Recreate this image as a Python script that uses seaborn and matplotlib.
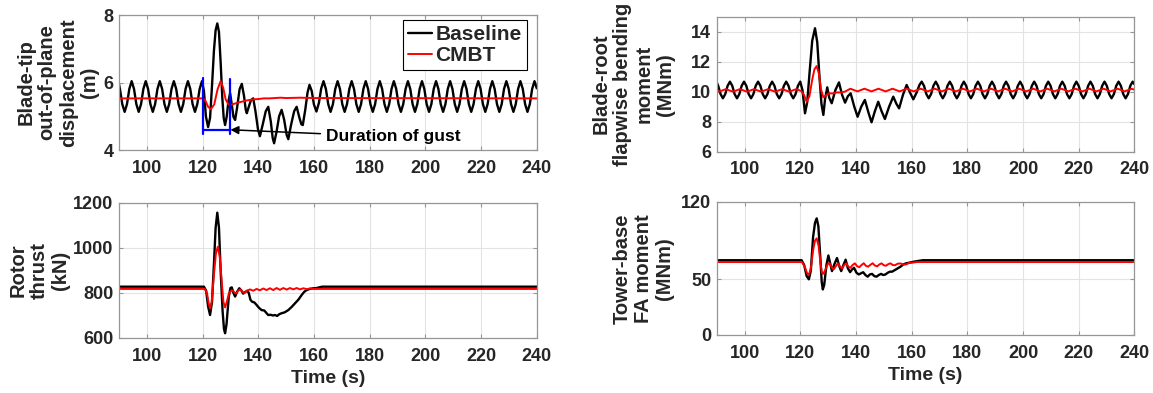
import numpy as np
import pandas as pd
import seaborn as sns
import matplotlib.pyplot as plt

# ---- data ----
# blade-tip out-of-plane displacement (m)
tip_base_t = [90.00, 90.34, 91.18, 92.03, 92.87, 93.71,
              94.55, 95.39, 96.23, 97.08, 97.92, 98.76,
              99.60, 100.44, 101.28, 102.13, 102.97, 103.81,
              104.65, 105.49, 106.33, 107.18, 108.02, 108.86,
              109.70, 110.54, 111.38, 112.23, 113.07, 113.91,
              114.75, 115.59, 116.43, 117.28, 118.12, 118.96,
              119.80, 120.50, 121.20, 122.00, 122.70, 123.40, 124.10, 124.70,
              125.30, 125.90, 126.50, 127.10, 127.60, 128.10, 128.70, 129.30,
              129.90, 130.50, 131.10, 131.70, 132.40, 133.30, 134.10, 134.90,
              135.50, 135.90, 136.60, 137.40, 138.20, 139.00, 139.90, 140.60,
              141.60, 142.70, 143.60, 144.50, 145.20, 145.70, 146.60, 147.50,
              148.40, 149.30, 150.20, 150.80, 151.80, 152.90, 153.80, 154.80,
              155.50, 156.00, 156.90, 157.70, 158.40, 159.20, 160.00, 160.90,
              161.80, 162.60,
              163.45, 164.29, 165.13, 165.98, 166.82, 167.66,
              168.50, 169.34, 170.18, 171.03, 171.87, 172.71,
              173.55, 174.39, 175.23, 176.08, 176.92, 177.76,
              178.60, 179.44, 180.28, 181.13, 181.97, 182.81,
              183.65, 184.49, 185.33, 186.18, 187.02, 187.86,
              188.70, 189.54, 190.38, 191.23, 192.07, 192.91,
              193.75, 194.59, 195.43, 196.28, 197.12, 197.96,
              198.80, 199.64, 200.48, 201.33, 202.17, 203.01,
              203.85, 204.69, 205.53, 206.38, 207.22, 208.06,
              208.90, 209.74, 210.58, 211.43, 212.27, 213.11,
              213.95, 214.79, 215.63, 216.48, 217.32, 218.16,
              219.00, 219.84, 220.68, 221.53, 222.37, 223.21,
              224.05, 224.89, 225.73, 226.58, 227.42, 228.26,
              229.10, 229.94, 230.78, 231.63, 232.47, 233.31,
              234.15, 234.99, 235.83, 236.68, 237.52, 238.36,
              239.20, 240.00]
tip_base_y = [5.95, 5.81, 5.36, 5.13, 5.36, 5.81,
              6.04, 5.81, 5.36, 5.13, 5.36, 5.81,
              6.04, 5.81, 5.36, 5.13, 5.36, 5.81,
              6.04, 5.81, 5.36, 5.13, 5.36, 5.81,
              6.04, 5.81, 5.36, 5.13, 5.36, 5.81,
              6.04, 5.81, 5.36, 5.13, 5.36, 5.81,
              6.04, 5.75, 5.00, 4.68, 4.95, 5.90, 6.95, 7.55,
              7.75, 7.50, 6.60, 5.55, 4.95, 4.74, 5.00, 5.45,
              5.68, 5.35, 4.98, 4.89, 5.25, 5.80, 5.96, 5.60,
              5.20, 5.09, 5.28, 5.48, 5.53, 5.15, 4.62, 4.41,
              4.75, 5.15, 5.28, 4.85, 4.35, 4.20, 4.55, 5.00,
              5.19, 4.90, 4.45, 4.32, 4.75, 5.15, 5.28, 4.95,
              4.76, 4.74, 5.20, 5.70, 5.93, 5.75, 5.35, 5.14,
              5.40, 5.82,
              6.04, 5.81, 5.36, 5.13, 5.36, 5.81,
              6.04, 5.81, 5.36, 5.13, 5.36, 5.81,
              6.04, 5.81, 5.36, 5.13, 5.36, 5.81,
              6.04, 5.81, 5.36, 5.13, 5.36, 5.81,
              6.04, 5.81, 5.36, 5.13, 5.36, 5.81,
              6.04, 5.81, 5.36, 5.13, 5.36, 5.81,
              6.04, 5.81, 5.36, 5.13, 5.36, 5.81,
              6.04, 5.81, 5.36, 5.13, 5.36, 5.81,
              6.04, 5.81, 5.36, 5.13, 5.36, 5.81,
              6.04, 5.81, 5.36, 5.13, 5.36, 5.81,
              6.04, 5.81, 5.36, 5.13, 5.36, 5.81,
              6.04, 5.81, 5.36, 5.13, 5.36, 5.81,
              6.04, 5.81, 5.36, 5.13, 5.36, 5.81,
              6.04, 5.81, 5.36, 5.13, 5.36, 5.81,
              6.04, 5.81, 5.36, 5.13, 5.36, 5.81,
              6.04, 5.83]
tip_cmbt_t = [90.0, 120.2, 121.0, 122.0, 123.0, 124.2, 125.4, 126.5, 127.4,
              128.3, 129.3, 129.9, 131.0, 132.5, 134.0, 136.0, 138.2, 140.0,
              142.0, 144.0, 146.0, 148.0, 150.0, 155.0, 160.0, 240.0]
tip_cmbt_y = [5.53, 5.53, 5.47, 5.28, 5.21, 5.35, 5.80, 6.04, 5.85,
              5.50, 5.35, 5.33, 5.36, 5.40, 5.43, 5.47, 5.50, 5.51,
              5.53, 5.53, 5.54, 5.55, 5.54, 5.55, 5.54, 5.53]

# blade-root flapwise bending moment (MNm)
root_base_t = [90.00, 90.54, 91.38, 92.23, 93.07, 93.91,
               94.75, 95.59, 96.43, 97.28, 98.12, 98.96,
               99.80, 100.64, 101.48, 102.33, 103.17, 104.01,
               104.85, 105.69, 106.53, 107.38, 108.22, 109.06,
               109.90, 110.74, 111.58, 112.43, 113.27, 114.11,
               114.95, 115.79, 116.63, 117.48, 118.32, 119.16,
               120.00, 120.80, 121.70, 122.50, 123.40, 124.30, 125.30, 126.10,
               126.90, 127.60, 128.30, 128.90, 129.70, 130.40, 131.30, 132.60,
               133.90, 135.00, 136.10, 137.10, 138.10, 139.40, 140.60, 141.90,
               143.20, 144.50, 145.60, 146.80, 148.00, 149.20, 150.40, 151.90,
               153.40, 154.50, 155.50, 156.90, 158.20, 159.40, 160.60, 161.80,
               162.80,
               163.60, 164.44, 165.28, 166.13, 166.97, 167.81,
               168.65, 169.49, 170.33, 171.18, 172.02, 172.86,
               173.70, 174.54, 175.38, 176.23, 177.07, 177.91,
               178.75, 179.59, 180.43, 181.28, 182.12, 182.96,
               183.80, 184.64, 185.48, 186.33, 187.17, 188.01,
               188.85, 189.69, 190.53, 191.38, 192.22, 193.06,
               193.90, 194.74, 195.58, 196.43, 197.27, 198.11,
               198.95, 199.79, 200.63, 201.48, 202.32, 203.16,
               204.00, 204.84, 205.68, 206.53, 207.37, 208.21,
               209.05, 209.89, 210.73, 211.58, 212.42, 213.26,
               214.10, 214.94, 215.78, 216.63, 217.47, 218.31,
               219.15, 219.99, 220.83, 221.68, 222.52, 223.36,
               224.20, 225.04, 225.88, 226.73, 227.57, 228.41,
               229.25, 230.09, 230.93, 231.78, 232.62, 233.46,
               234.30, 235.14, 235.98, 236.83, 237.67, 238.51,
               239.35, 240.00]
root_base_y = [10.63, 10.39, 9.84, 9.56, 9.84, 10.39,
               10.67, 10.39, 9.84, 9.56, 9.84, 10.39,
               10.67, 10.39, 9.84, 9.56, 9.84, 10.39,
               10.67, 10.39, 9.84, 9.56, 9.84, 10.39,
               10.67, 10.39, 9.84, 9.56, 9.84, 10.39,
               10.67, 10.39, 9.84, 9.56, 9.84, 10.39,
               10.67, 10.10, 8.56, 9.30, 11.40, 13.40, 14.23, 13.30,
               11.00, 9.20, 8.45, 9.50, 10.29, 9.60, 9.23, 10.10,
               10.62, 9.80, 9.27, 9.70, 9.89, 9.00, 8.33, 9.00,
               9.45, 8.60, 7.96, 8.70, 9.33, 8.70, 8.18, 9.00,
               9.67, 9.20, 8.89, 9.80, 10.45, 9.95, 9.49, 9.95,
               10.45,
               10.67, 10.39, 9.84, 9.56, 9.84, 10.39,
               10.67, 10.39, 9.84, 9.56, 9.84, 10.39,
               10.67, 10.39, 9.84, 9.56, 9.84, 10.39,
               10.67, 10.39, 9.84, 9.56, 9.84, 10.39,
               10.67, 10.39, 9.84, 9.56, 9.84, 10.39,
               10.67, 10.39, 9.84, 9.56, 9.84, 10.39,
               10.67, 10.39, 9.84, 9.56, 9.84, 10.39,
               10.67, 10.39, 9.84, 9.56, 9.84, 10.39,
               10.67, 10.39, 9.84, 9.56, 9.84, 10.39,
               10.67, 10.39, 9.84, 9.56, 9.84, 10.39,
               10.67, 10.39, 9.84, 9.56, 9.84, 10.39,
               10.67, 10.39, 9.84, 9.56, 9.84, 10.39,
               10.67, 10.39, 9.84, 9.56, 9.84, 10.39,
               10.67, 10.39, 9.84, 9.56, 9.84, 10.39,
               10.67, 10.39, 9.84, 9.56, 9.84, 10.39,
               10.67, 10.50]
root_cmbt_t = [90.00, 90.78, 93.30, 95.83, 98.35, 100.88, 103.40, 105.93,
               108.45, 110.98, 113.50, 116.03, 118.55, 120.30, 121.30, 122.30,
               123.30, 124.30, 125.10, 125.90, 126.70, 127.40, 128.30, 129.20,
               130.30, 131.50, 133.00, 134.50, 136.00,
               138.00, 140.53, 143.05, 145.58, 148.10, 150.63, 153.15, 155.68,
               158.20, 160.73, 163.25, 165.78, 168.30, 170.83, 173.35, 175.88,
               178.40, 180.93, 183.45, 185.98, 188.50, 191.03, 193.55, 196.08,
               198.60, 201.13, 203.65, 206.18, 208.70, 211.23, 213.75, 216.28,
               218.80, 221.33, 223.85, 226.38, 228.90, 231.43, 233.95, 236.48,
               239.00, 240.00]
root_cmbt_y = [10.05, 10.00, 10.17, 10.00, 10.17, 10.00, 10.17, 10.00,
               10.17, 10.00, 10.17, 10.00, 10.17, 10.05, 9.80, 9.33,
               9.70, 10.80, 11.50, 11.71, 11.20, 10.20, 9.62, 9.75,
               9.90, 9.88, 9.95, 9.95, 10.00,
               10.20, 10.02, 10.20, 10.02, 10.20, 10.02, 10.20, 10.02,
               10.20, 10.02, 10.20, 10.02, 10.20, 10.02, 10.20, 10.02,
               10.20, 10.02, 10.20, 10.02, 10.20, 10.02, 10.20, 10.02,
               10.20, 10.02, 10.20, 10.02, 10.20, 10.02, 10.20, 10.02,
               10.20, 10.02, 10.20, 10.02, 10.20, 10.02, 10.20, 10.02,
               10.20, 10.13]

# rotor thrust (kN)
thrust_base_t = [90.0, 120.5, 121.3, 122.0, 122.7, 123.4, 124.1, 124.7, 125.3,
                 125.9, 126.5, 127.2, 127.7, 128.1, 128.6, 129.4, 130.0, 130.5,
                 131.1, 131.7, 132.4, 133.2, 133.9, 134.6, 135.4, 136.1, 136.6,
                 137.2, 137.8, 138.6, 139.4, 140.2, 141.2, 142.2, 143.0, 143.6,
                 144.5, 145.2, 146.0, 146.8, 147.6, 148.4, 149.5, 150.8, 152.0,
                 153.2, 154.4, 155.6, 156.5, 157.4, 158.5, 159.8, 161.0, 162.2,
                 163.0, 240.0]
thrust_base_y = [828, 828, 810, 740, 702, 760, 930, 1090, 1157,
                 1090, 900, 720, 640, 621, 660, 780, 822, 825,
                 800, 784, 805, 821, 812, 797, 805, 810, 800,
                 770, 761, 758, 747, 735, 724, 722, 710, 702,
                 703, 700, 702, 698, 706, 710, 714, 724, 738,
                 754, 770, 791, 805, 813, 818, 821, 822, 826,
                 828, 828]
thrust_cmbt_t = [90.0, 120.8, 121.6, 122.2, 122.7, 123.3, 124.0, 124.8, 125.5,
                 126.2, 126.9, 127.5, 128.1, 128.7, 129.5, 130.5, 131.3, 132.0,
                 132.8, 133.5, 134.3, 135.0, 136.0, 137.0, 138.2, 139.4, 140.6,
                 141.8, 143.0, 144.2, 145.4, 146.6, 147.8, 149.0, 150.2, 151.4,
                 152.6, 153.8, 155.0, 156.2, 157.4, 158.6, 160.0, 240.0]
thrust_cmbt_y = [818, 818, 800, 755, 732, 760, 870, 975, 1006,
                 960, 850, 760, 736, 760, 800, 812, 805, 797,
                 810, 816, 806, 800, 810, 816, 810, 818, 812,
                 820, 813, 821, 813, 822, 814, 822, 815, 822,
                 816, 822, 816, 821, 817, 820, 818, 818]

# tower-base fore-aft moment (MNm)
tower_base_t = [90.0, 120.5, 121.4, 122.3, 123.1, 123.8, 124.6, 125.3, 125.9,
                126.5, 127.2, 127.7, 128.1, 128.6, 129.4, 130.1, 130.7, 131.4,
                132.3, 133.2, 134.0, 134.7, 135.5, 136.3, 137.1, 137.9, 138.6,
                139.3, 140.2, 141.0, 141.8, 142.6, 143.4, 144.2, 145.0, 145.8,
                146.6, 147.4, 148.2, 149.0, 149.8, 150.6, 151.4, 152.2, 153.0,
                154.0, 155.0, 156.0, 157.0, 158.0, 159.0, 160.4, 162.0, 164.0,
                240.0]
tower_base_y = [67.3, 67.3, 63.0, 53.0, 50.1, 58.0, 88.0, 101.0, 105.0,
                98.0, 70.0, 48.0, 41.0, 45.0, 63.0, 71.6, 65.0, 57.5,
                64.0, 69.3, 62.0, 57.5, 63.0, 67.8, 60.0, 56.6, 59.0,
                60.5, 56.0, 54.5, 55.5, 56.5, 54.0, 52.5, 54.5, 55.0,
                53.0, 52.5, 54.0, 55.0, 54.0, 54.5, 56.0, 57.0, 57.0,
                58.5, 60.0, 61.5, 63.5, 64.5, 65.0, 65.8, 66.5, 67.3,
                67.3]
tower_cmbt_t = [90.0, 120.6, 121.5, 122.4, 123.1, 123.8, 124.6, 125.3, 125.9,
                126.6, 127.3, 127.8, 128.2, 128.9, 129.8, 130.5, 131.3, 132.0,
                132.8, 133.5, 134.3, 135.0, 135.8, 136.5, 137.3, 138.0, 138.8,
                139.6, 140.4, 141.2, 142.0, 142.8, 143.6, 144.4, 145.2, 146.0,
                146.8, 147.6, 148.4, 149.2, 150.0, 150.8, 151.6, 152.4, 153.2,
                154.0, 155.0, 156.0, 157.0, 158.0, 159.0, 160.5, 162.0, 240.0]
tower_cmbt_y = [65.7, 65.7, 62.0, 56.0, 54.0, 60.0, 76.0, 85.0, 87.0,
                80.0, 64.0, 56.0, 55.0, 58.0, 63.5, 64.8, 61.0, 59.0,
                62.0, 64.5, 61.5, 60.0, 63.0, 64.5, 61.5, 60.5, 63.0,
                64.5, 62.0, 61.0, 63.0, 64.6, 62.2, 61.5, 63.2, 64.6,
                62.5, 61.8, 63.5, 64.5, 62.8, 62.3, 63.8, 64.5, 63.0,
                62.8, 64.2, 64.4, 63.5, 63.5, 64.8, 65.2, 65.7, 65.7]

gust_start, gust_end = 120, 130
series_names = ['Baseline', 'CMBT']
x_ticks = [100, 120, 140, 160, 180, 200, 220, 240]

# ---- style ----
sns.set_theme(style='whitegrid')
plt.rcParams['font.family'] = ['Liberation Sans', 'DejaVu Sans']
plt.rcParams['font.weight'] = 'bold'
plt.rcParams['axes.labelweight'] = 'bold'

fig = plt.figure(figsize=(11.53, 3.93), dpi=100)
ax_tip = fig.add_axes([0.1032, 0.6183, 0.3623, 0.3435])
ax_root = fig.add_axes([0.6216, 0.6140, 0.3623, 0.3435])
ax_thr = fig.add_axes([0.1032, 0.1400, 0.3623, 0.3435])
ax_twr = fig.add_axes([0.6216, 0.1476, 0.3623, 0.3392])


def draw(ax, tb, yb, tc, yc, ylim, yticks, ylabel, lab_x):
    sns.lineplot(x=tb, y=yb, ax=ax, color='black', lw=1.7, estimator=None,
                 sort=False, label=series_names[0], legend=False)
    sns.lineplot(x=tc, y=yc, ax=ax, color='#ff0000', lw=1.4, estimator=None,
                 sort=False, label=series_names[1], legend=False)
    ax.set_xlim(90, 240)
    ax.set_xticks(x_ticks)
    ax.set_ylim(*ylim)
    ax.set_yticks(yticks)
    ax.set_facecolor('white')
    ax.grid(True, color='#e3e3e3', lw=0.8)
    for s in ax.spines.values():
        s.set_visible(True)
        s.set_color('#969696')
        s.set_linewidth(0.9)
    ax.tick_params(direction='in', length=3, width=0.8, color='#969696',
                   labelsize=13, labelcolor='#262626', bottom=True, left=True,
                   top=True, right=True, labeltop=False, labelright=False)
    ax.tick_params(axis='x', pad=7)
    ax.tick_params(axis='y', pad=4)
    ax.set_ylabel(ylabel, fontsize=14.5, color='#262626', va='center',
                  ha='center', multialignment='center', linespacing=1.15)
    ax.yaxis.set_label_coords(lab_x, 0.5)
    ax.set_xlabel('')


draw(ax_tip, tip_base_t, tip_base_y, tip_cmbt_t, tip_cmbt_y, (4, 8), [4, 6, 8],
     'Blade-tip\nout-of-plane\ndisplacement\n(m)', -0.147)
draw(ax_root, root_base_t, root_base_y, root_cmbt_t, root_cmbt_y, (6, 15),
     [6, 8, 10, 12, 14], 'Blade-root\nflapwise bending\nmoment\n(MNm)', -0.20)
draw(ax_thr, thrust_base_t, thrust_base_y, thrust_cmbt_t, thrust_cmbt_y,
     (600, 1200), [600, 800, 1000, 1200], 'Rotor\nthrust\n(kN)', -0.19)
draw(ax_twr, tower_base_t, tower_base_y, tower_cmbt_t, tower_cmbt_y,
     (0, 120), [0, 50, 120], 'Tower-base\nFA moment\n(MNm)', -0.175)

for ax in (ax_thr, ax_twr):
    ax.set_xlabel('Time (s)', fontsize=14, color='#262626', labelpad=4)

# gust duration bracket
ax_tip.plot([gust_start, gust_start], [4.46, 6.12], color='#0000ff', lw=1.6)
ax_tip.plot([gust_end, gust_end], [4.46, 6.10], color='#0000ff', lw=1.6)
ax_tip.plot([gust_start, gust_end], [4.60, 4.60], color='#0000ff', lw=1.6)
ax_tip.annotate('Duration of gust', xy=(gust_end, 4.60), xytext=(164.5, 4.39),
                fontsize=12.5, color='black', va='center', ha='left',
                arrowprops=dict(arrowstyle='-|>', color='black', lw=1.1,
                                mutation_scale=12, shrinkA=2, shrinkB=0))

leg = ax_tip.legend(loc='upper left', bbox_to_anchor=(0.68, 0.965),
                    borderaxespad=0, fontsize=15, handlelength=1.15,
                    handletextpad=0.15, labelspacing=0.1, borderpad=0.25,
                    frameon=True, fancybox=False, framealpha=1,
                    edgecolor='black')
leg.get_frame().set_linewidth(0.8)

fig.savefig('out.png', dpi=100)
